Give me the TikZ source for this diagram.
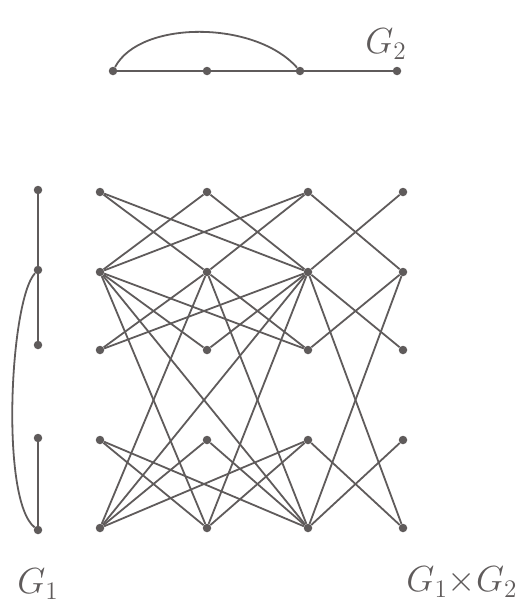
\documentclass[tikz,border=0pt]{standalone}
\usepackage{amsmath}
\usepackage{graphicx}
\usetikzlibrary{positioning}
\definecolor{inkgray}{HTML}{5F5B5B}
\newcommand{\biglabel}[1]{\scalebox{2.1}{\LARGE$#1$}}

\begin{document}
\begin{tikzpicture}[x=1pt,y=-1pt,
  vtx/.style={circle,fill=inkgray,inner sep=0pt,minimum size=8.5pt},
  link/.style={draw=inkgray,line width=1.8pt},
  lbl/.style={text=inkgray}]
  \useasboundingbox (0,0) rectangle (523,613);
  % G2: a path on four vertices plus the chord 1--3
  \foreach \j/\x in {1/113,2/207,3/300,4/397}
    \node[vtx] (h\j) at (\x,71) {};
  \draw[link] (h1) -- (h2) -- (h3) -- (h4);
  \draw[link] (h1) .. controls (140,20) and (255,20) .. (h3);
  \node[lbl] (lab2) at (386,44) {\biglabel{G_2}};
  % G1: five vertices in a column
  \foreach \r/\y in {a/190,b/270,c/345,d/438,e/530}
    \node[vtx] (g\r) at (38,\y) {};
  \draw[link] (ga) -- (gb) -- (gc);
  \draw[link] (gd) -- (ge);
  \draw[link] (gb) .. controls (10,300) and (0,500) .. (ge);
  \node[lbl] (lab1) at (38,584) {\biglabel{G_1}};
  % tensor product grid
  \foreach \r/\y in {a/192,b/272,c/350,d/440,e/528}
    \foreach \j/\x in {1/100,2/207,3/308,4/403}
      \node[vtx] (\r\j) at (\x,\y) {};
  \foreach \u/\w in {a/b,b/c,b/e,d/e}
    \foreach \p/\q in {1/2,2/3,3/4,1/3}{
      \draw[link] (\u\p) -- (\w\q);
      \draw[link] (\u\q) -- (\w\p);
    }
  \node[lbl] (lab3) at (462,582) {\biglabel{G_1{\times}G_2}};
\end{tikzpicture}
\end{document}
